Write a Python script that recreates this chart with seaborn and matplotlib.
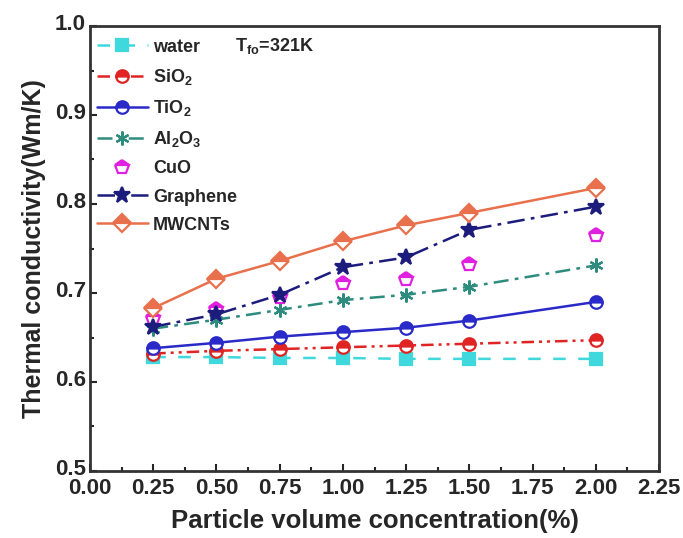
"""Thermal conductivity of nanofluids vs particle volume concentration."""
import matplotlib
matplotlib.use("Agg")
import matplotlib.pyplot as plt
import matplotlib.transforms as mtransforms
from matplotlib.ticker import MultipleLocator, FormatStrFormatter
import pandas as pd
import seaborn as sns

conc = [0.25, 0.5, 0.75, 1.0, 1.25, 1.5, 2.0]
water = [0.628, 0.628, 0.627, 0.627, 0.626, 0.626, 0.626]
sio2 = [0.632, 0.635, 0.637, 0.639, 0.641, 0.643, 0.647]
tio2 = [0.638, 0.644, 0.651, 0.656, 0.661, 0.669, 0.690]
al2o3 = [0.660, 0.670, 0.681, 0.692, 0.698, 0.707, 0.731]
cuo = [0.672, 0.682, 0.695, 0.711, 0.716, 0.733, 0.765]
graphene = [0.662, 0.676, 0.698, 0.729, 0.740, 0.771, 0.797]
mwcnts = [0.683, 0.716, 0.736, 0.758, 0.776, 0.790, 0.818]

labels = ["water", "SiO$_2$", "TiO$_2$", "Al$_2$O$_3$", "CuO", "Graphene", "MWCNTs"]

sns.set_style("ticks")
plt.rcParams["font.family"] = ["Liberation Sans", "DejaVu Sans"]
plt.rcParams["font.weight"] = "bold"
plt.rcParams["mathtext.fontset"] = "custom"
plt.rcParams["mathtext.rm"] = "Liberation Sans:bold"
plt.rcParams["mathtext.bf"] = "Liberation Sans:bold"
plt.rcParams["mathtext.it"] = "Liberation Sans:bold"
plt.rcParams["mathtext.default"] = "bf"

df = pd.DataFrame({"conc": conc, "water": water, "SiO2": sio2, "TiO2": tio2,
                   "Al2O3": al2o3, "CuO": cuo, "Graphene": graphene, "MWCNTs": mwcnts})

styles = {
    "water": dict(color="#3fd8dc", ls=(0, (5, 5)), marker="s", fill="full", ms=9),
    "SiO2": dict(color="#e02424", ls=(0, (5, 2, 1.2, 2, 1.2, 2)), marker="o", fill="top", ms=9),
    "TiO2": dict(color="#2a2ac8", ls="-", marker="o", fill="top", ms=9),
    "Al2O3": dict(color="#2e8c7e", ls=(0, (6, 2.5, 1.5, 2.5)), marker=(6, 2, 0), fill="full", ms=10),
    "CuO": dict(color="#e020e0", ls="None", marker="p", fill="top", ms=10),
    "Graphene": dict(color="#1c1c7c", ls=(0, (7, 2.5, 1.5, 2.5)), marker="*", fill="full", ms=12),
    "MWCNTs": dict(color="#e8704c", ls="-", marker="D", fill="top", ms=9),
}

fig, ax = plt.subplots(figsize=(6.83, 5.38), dpi=100)
fig.subplots_adjust(left=90 / 683, right=659 / 683, bottom=1 - 471 / 538, top=1 - 26 / 538)

for col, lab in zip(list(styles), labels):
    st = styles[col]
    sns.lineplot(data=df, x="conc", y=col, ax=ax, label=lab, color=st["color"],
                 linestyle=st["ls"], linewidth=1.8, marker=st["marker"], markersize=st["ms"],
                 fillstyle=st["fill"], markerfacecolor=st["color"], markerfacecoloralt="white",
                 markeredgecolor=st["color"], markeredgewidth=1.6)

ax.set_xlim(0, 2.25)
ax.set_ylim(0.5, 1.0)
ax.xaxis.set_major_locator(MultipleLocator(0.25))
ax.xaxis.set_minor_locator(MultipleLocator(0.125))
ax.yaxis.set_major_locator(MultipleLocator(0.1))
ax.yaxis.set_minor_locator(MultipleLocator(0.05))
ax.xaxis.set_major_formatter(FormatStrFormatter("%.2f"))
ax.yaxis.set_major_formatter(FormatStrFormatter("%.1f"))
ax.tick_params(which="both", direction="in", labelsize=16, width=1.5)
ax.tick_params(axis="x", pad=5)
ax.tick_params(axis="y", pad=3)
ax.tick_params(which="major", length=5)
ax.tick_params(which="minor", length=3)
for sp in ax.spines.values():
    sp.set_linewidth(2)
    sp.set_color("#333333")

# y tick labels sit a little above their ticks, as in the original
shift_up = mtransforms.ScaledTranslation(0, 3 / 72, fig.dpi_scale_trans)
for lbl in ax.get_yticklabels():
    lbl.set_transform(lbl.get_transform() + shift_up)

ax.set_xlabel("Particle volume concentration(%)", fontsize=18.5, fontweight="bold", labelpad=7)
ax.set_ylabel("Thermal conductivity(Wm/K)", fontsize=18, fontweight="bold", labelpad=6)

ax.legend(loc="upper left", bbox_to_anchor=(-0.01, 1.0), frameon=False, fontsize=13,
          handlelength=2.8, handletextpad=0.3, labelspacing=0.62, borderaxespad=0.3)
ax.text(0.255, 0.955, "T$_{fo}$=321K", transform=ax.transAxes, fontsize=13,
        fontweight="bold", va="center")

plt.savefig("out.png", dpi=100)
plt.close()
